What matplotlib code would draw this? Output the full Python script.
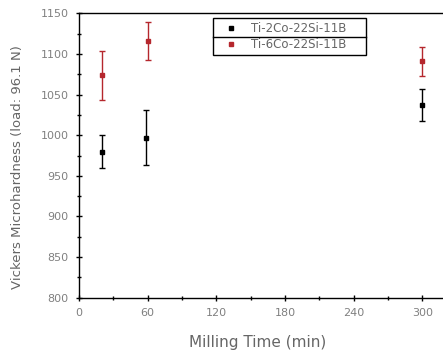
import numpy as np
import matplotlib.pyplot as plt
from matplotlib.ticker import MultipleLocator

# milling time (min) and hardness readings
t_2co = [20, 59, 300]
hv_2co = [980, 997, 1037]
err_2co = [20, 34, 20]

t_6co = [20, 60, 300]
hv_6co = [1074, 1116, 1091]
err_6co = [30, 23, 18]

labels = ['Ti-2Co-22Si-11B', 'Ti-6Co-22Si-11B']
x_ticks = [0, 60, 120, 180, 240, 300]
y_ticks = [800, 850, 900, 950, 1000, 1050, 1100, 1150]

grey = '#808080'
red = '#b5272d'

fig = plt.figure(figsize=(4.43, 3.54), dpi=100)
ax = fig.add_axes([0.178, 0.159, 0.822, 0.803])

eb1 = ax.errorbar(t_2co, hv_2co, yerr=err_2co, fmt='s', color='black', ms=3.5,
                  capsize=2.5, elinewidth=1, capthick=1)
eb2 = ax.errorbar(t_6co, hv_6co, yerr=err_6co, fmt='s', color=red, ms=3.5,
                  capsize=2.5, elinewidth=1, capthick=1)

ax.set_xlim(0, 318)
ax.set_ylim(800, 1150)
ax.set_xticks(x_ticks)
ax.set_yticks(y_ticks)
ax.xaxis.set_minor_locator(MultipleLocator(30))
ax.yaxis.set_minor_locator(MultipleLocator(25))
ax.tick_params(which='major', direction='inout', length=5, width=1,
               labelsize=8, labelcolor=grey, pad=5)
ax.tick_params(which='minor', direction='inout', length=3, width=1)

ax.spines['right'].set_visible(False)
for s in ['left', 'bottom', 'top']:
    ax.spines[s].set_linewidth(1)

ax.set_xlabel('Milling Time (min)', fontsize=11, color='#666666')
ax.xaxis.set_label_coords(0.49, -0.13)
ax.set_ylabel('Vickers Microhardness (load: 96.1 N)', fontsize=9.5,
              color='#666666')
ax.yaxis.set_label_coords(-0.15, 0.46)

leg = ax.legend([eb1[0], eb2[0]], labels,
                loc='upper left', bbox_to_anchor=(0.368, 0.983), fontsize=8.5,
                frameon=False, handlelength=2.4, handletextpad=0.55,
                borderpad=0.3, labelspacing=0.3, borderaxespad=0)
for txt in leg.get_texts():
    txt.set_color('#666666')

# boxed legend with a line between the two rows
fig.canvas.draw()
bb = leg.get_window_extent().transformed(fig.transFigure.inverted())
x1 = bb.x1 + 16 / 443
ymid = (bb.y0 + bb.y1) / 2
fig.add_artist(plt.Rectangle((bb.x0, bb.y0), x1 - bb.x0, bb.y1 - bb.y0,
                             fill=False, edgecolor='black', lw=1,
                             transform=fig.transFigure))
fig.add_artist(plt.Line2D([bb.x0, x1], [ymid, ymid], color='black', lw=1,
                          transform=fig.transFigure))

fig.savefig('out.png', dpi=100)
